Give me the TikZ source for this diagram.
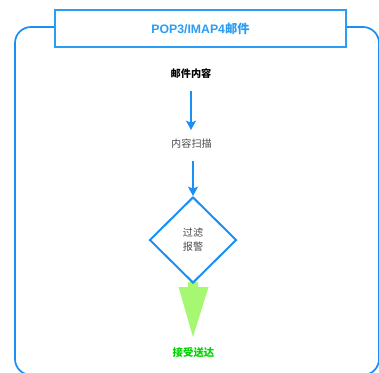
\documentclass[tikz,border=0pt]{standalone}
\usepackage{fontspec}
\setmainfont{Liberation Sans}
\newfontfamily\cjk{Noto Sans CJK SC}
\usetikzlibrary{shapes.geometric,arrows.meta}
\definecolor{lineblue}{HTML}{1A8FF5}
\definecolor{titleblue}{HTML}{2A9DF4}
\definecolor{arrowgreen}{HTML}{A6F872}
\definecolor{textgreen}{HTML}{00D400}
\definecolor{textgray}{HTML}{4A4A4A}
\tikzset{
  flow/.style={draw=lineblue, line width=1.5pt, -{Stealth[length=7pt,width=7.5pt,inset=1.5pt]}},
  lbl/.style={inner sep=0pt, font=\fontsize{7.6pt}{10pt}\selectfont\cjk},
}
\begin{document}
\begin{tikzpicture}[x=0.75pt,y=-0.75pt]
\useasboundingbox (0,0) rectangle (379,372);
\begin{scope}
\clip (0,0) rectangle (379,372);
\draw[lineblue, line width=1.3pt, rounded corners=12pt] (15,27) rectangle (379,375);
\end{scope}
\node[draw=titleblue, line width=0.9pt, fill=white, minimum width=218.25pt, minimum height=27.75pt, inner sep=0pt,
  text=titleblue, font=\fontsize{9.2pt}{11pt}\selectfont\bfseries] (title) at (200.5,28.5) {POP3/IMAP4{\cjk\bfseries 邮件}};
\node[lbl, font=\fontsize{7.6pt}{10pt}\selectfont\cjk\bfseries] (content) at (191,74) {邮件内容};
\node[lbl, text=textgray] (scan) at (191.5,144) {内容扫描};
% green arrow
\fill[arrowgreen] (188,282) -- (198,282) -- (198,287) -- (208.5,287) -- (193,337) -- (178.5,287) -- (188,287) -- cycle;
\node[draw=lineblue, line width=1.5pt, fill=white, shape=diamond, inner sep=0pt, minimum width=65.25pt, minimum height=64.5pt,
  align=center, text=textgray, font=\fontsize{7.6pt}{10.5pt}\selectfont\cjk] (filter) at (193,240) {过滤\\报警};
\node[lbl, text=textgreen, font=\fontsize{7.8pt}{10pt}\selectfont\cjk\bfseries] (deliver) at (193.5,353) {接受送达};
\draw[flow, shorten <=12.75pt, shorten >=10.5pt] (content.center) -- (content.center |- scan.center);
\draw[flow, shorten <=12.75pt] (filter.north |- scan.center) -- (filter.north);
\end{tikzpicture}
\end{document}
